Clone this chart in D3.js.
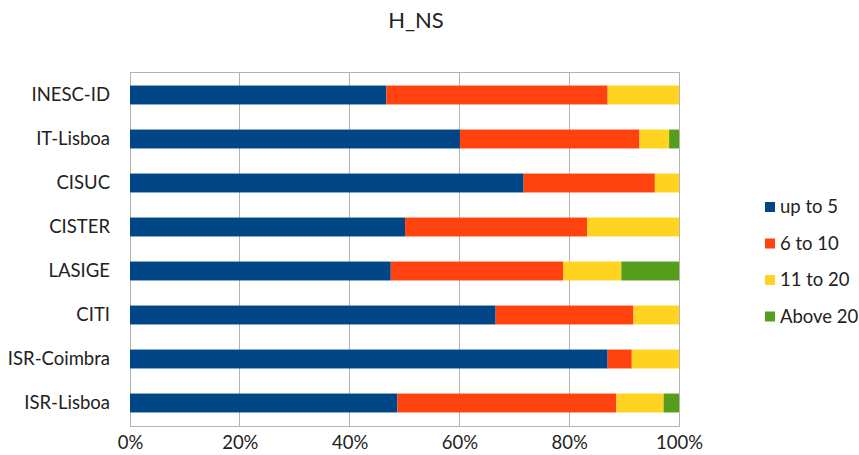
<!DOCTYPE html>
<html><head><meta charset="utf-8">
<script src="https://cdn.jsdelivr.net/npm/d3@7"></script>
<style>body{margin:0;background:#fff;} text{font-family:Lato,"Open Sans",sans-serif;fill:#222;}</style>
</head><body>
<svg id="chart" width="859" height="455"></svg>
<script>
const categories = ["INESC-ID","IT-Lisboa","CISUC","CISTER","LASIGE","CITI","ISR-Coimbra","ISR-Lisboa"];
const seriesNames = ["up to 5","6 to 10","11 to 20","Above 20"];
const upTo5    = [46.7, 60.1, 71.7, 50.1, 47.5, 66.6, 87.0, 48.7];
const six10    = [40.3, 32.7, 23.9, 33.2, 31.4, 25.1,  4.4, 39.9];
const eleven20 = [13.0,  5.4,  4.4, 16.7, 10.6,  8.3,  8.6,  8.6];
const above20  = [ 0.0,  1.8,  0.0,  0.0, 10.5,  0.0,  0.0,  2.8];
const colors = ["#004586","#ff420e","#ffd320","#579d1c"];
const xTicks = [0,0.2,0.4,0.6,0.8,1];

const svg = d3.select("#chart");
const m = {left:130, top:73};
const plotR = 679, plotB = 425;

const rows = categories.map((c,i)=>{
  const vals=[upTo5[i],six10[i],eleven20[i],above20[i]];
  const tot=d3.sum(vals);
  const o={cat:c};
  seriesNames.forEach((s,j)=>o[s]=vals[j]/tot);
  return o;
});
const stack = d3.stack().keys(seriesNames)(rows);

const x = d3.scaleLinear().domain([0,1]).range([m.left, plotR]);
const y = d3.scaleBand().domain(categories).range([m.top, plotB]).paddingInner(0.57).paddingOuter(0.285);

// gridlines
svg.append("g").selectAll("line").data(xTicks).join("line")
  .attr("x1",d=>x(d)).attr("x2",d=>x(d)).attr("y1",m.top-1).attr("y2",plotB+1)
  .attr("stroke","#b3b3b3").attr("stroke-width",1).attr("shape-rendering","crispEdges");
svg.append("rect").attr("x",m.left).attr("y",m.top-1).attr("width",plotR-m.left).attr("height",plotB-m.top+2)
  .attr("fill","none").attr("stroke","#b3b3b3").attr("shape-rendering","crispEdges");

// bars
svg.append("g").selectAll("g").data(stack).join("g")
  .attr("fill",(d,i)=>colors[i])
  .selectAll("rect").data(d=>d).join("rect")
  .attr("x",d=>x(d[0])).attr("width",d=>Math.max(0,x(d[1])-x(d[0])))
  .attr("y",d=>y(d.data.cat)).attr("height",y.bandwidth());

// axes
const xAxis = d3.axisBottom(x).tickValues(xTicks).tickFormat(d3.format(".0%")).tickSize(0).tickPadding(11);
const gx = svg.append("g").attr("transform",`translate(0,${plotB})`).call(xAxis);
gx.select(".domain").remove();
gx.selectAll("text").style("font-size","18.5px").style("font-family","Lato, sans-serif").attr("fill","#222");

const yAxis = d3.axisLeft(y).tickSize(0).tickPadding(20);
const gy = svg.append("g").attr("transform",`translate(${m.left},0)`).call(yAxis);
gy.select(".domain").remove();
gy.selectAll("text").style("font-size","18.5px").style("font-family","Lato, sans-serif").attr("fill","#222");

// title
svg.append("text").attr("x",416).attr("y",28).attr("text-anchor","middle")
  .style("font-size","22px").text("H_NS");

// legend
const lg = svg.append("g").selectAll("g").data(seriesNames).join("g")
  .attr("transform",(d,i)=>`translate(765,${202+i*36.5})`);
lg.append("rect").attr("width",10).attr("height",10).attr("fill",(d,i)=>colors[i]);
lg.append("text").attr("x",15).attr("y",5).attr("dy","0.35em").style("font-size","18.5px").text(d=>d);
</script>
</body></html>
